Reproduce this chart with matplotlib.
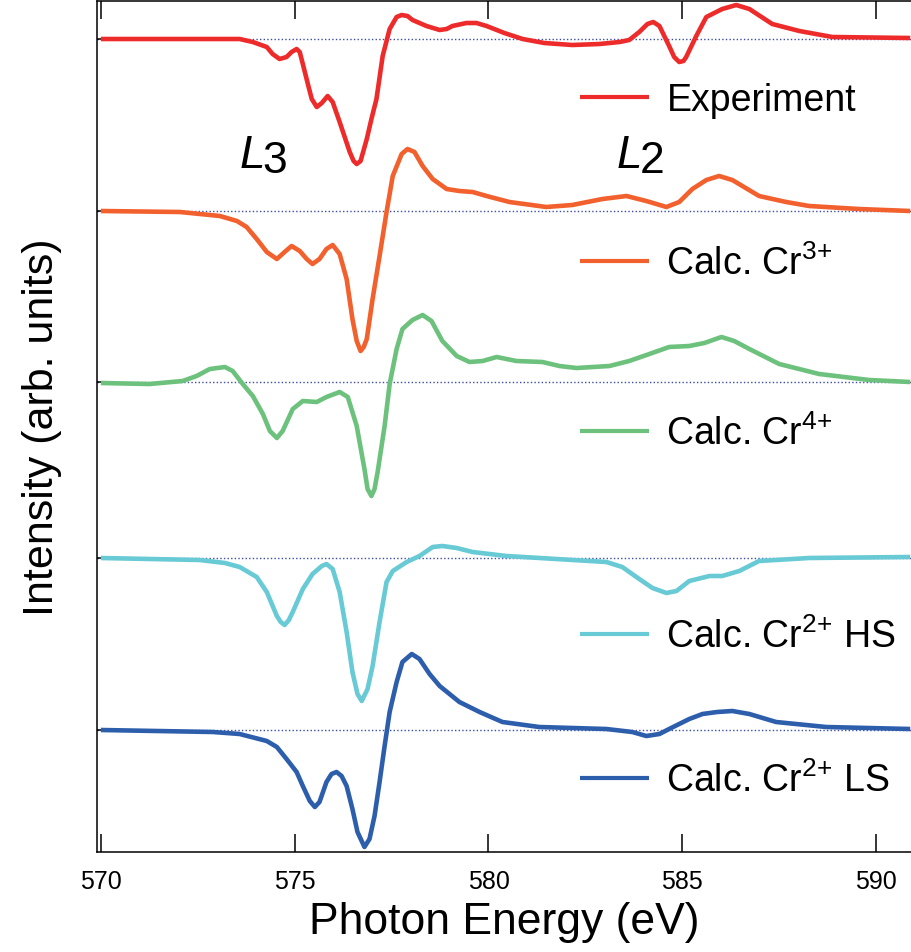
import numpy as np
import matplotlib.pyplot as plt

plt.rcParams['font.family'] = ['Liberation Sans', 'DejaVu Sans']
plt.rcParams['mathtext.fontset'] = 'custom'
plt.rcParams['mathtext.rm'] = 'Liberation Sans'
plt.rcParams['mathtext.it'] = 'Liberation Sans:italic'

# photon energy (eV) / intensity (arb. units)
exp_e = [570.00, 573.58, 573.92, 574.28, 574.43, 574.61, 574.79, 574.92, 575.05, 575.13,
         575.21, 575.34, 575.44, 575.57, 575.70, 575.85, 575.98, 576.16, 576.42, 576.52,
         576.60, 576.70, 576.86, 576.98, 577.11, 577.27, 577.45, 577.63, 577.76, 577.91,
         578.04, 578.40, 578.74, 578.92, 579.07, 579.43, 579.69, 579.95, 580.41, 580.88,
         581.44, 582.16, 582.86, 583.38, 583.63, 583.89, 584.10, 584.25, 584.41, 584.66,
         584.79, 584.92, 585.03, 585.10, 585.36, 585.62, 586.03, 586.39, 586.73, 587.32,
         588.02, 588.87, 590.88]
exp_i = [0.00, 0.00, -0.03, -0.08, -0.15, -0.20, -0.18, -0.13, -0.10, -0.13,
         -0.25, -0.45, -0.60, -0.68, -0.64, -0.57, -0.63, -0.83, -1.13, -1.22,
         -1.25, -1.22, -1.00, -0.80, -0.60, -0.17, 0.10, 0.22, 0.24, 0.23,
         0.19, 0.13, 0.09, 0.10, 0.13, 0.16, 0.16, 0.13, 0.06, 0.00,
         -0.04, -0.06, -0.05, -0.03, -0.01, 0.07, 0.15, 0.17, 0.13, -0.07,
         -0.18, -0.23, -0.22, -0.18, 0.03, 0.22, 0.30, 0.34, 0.30, 0.15,
         0.08, 0.02, 0.01]

cr3_e = [570.00, 572.04, 573.07, 573.51, 573.76, 574.02, 574.28, 574.54, 574.74, 574.92,
         575.13, 575.31, 575.46, 575.64, 575.82, 575.98, 576.16, 576.34, 576.49, 576.60,
         576.70, 576.78, 576.86, 577.01, 577.19, 577.37, 577.53, 577.76, 577.91, 578.09,
         578.30, 578.56, 578.92, 579.25, 579.59, 579.95, 580.54, 581.49, 582.16, 582.94,
         583.56, 584.07, 584.59, 584.92, 585.26, 585.62, 585.95, 586.29, 586.98, 587.68,
         588.27, 589.56, 590.88]
cr3_i = [0.00, -0.01, -0.05, -0.10, -0.16, -0.28, -0.41, -0.48, -0.41, -0.35,
         -0.40, -0.48, -0.53, -0.48, -0.38, -0.34, -0.43, -0.68, -1.08, -1.30,
         -1.40, -1.36, -1.28, -0.88, -0.45, -0.01, 0.35, 0.57, 0.62, 0.59,
         0.45, 0.32, 0.22, 0.20, 0.19, 0.15, 0.09, 0.04, 0.06, 0.12,
         0.15, 0.10, 0.04, 0.09, 0.22, 0.31, 0.35, 0.31, 0.15, 0.09,
         0.05, 0.02, 0.00]

cr4_e = [570.00, 571.26, 572.11, 572.47, 572.81, 573.20, 573.40, 573.66, 573.92, 574.18,
         574.36, 574.54, 574.69, 574.95, 575.21, 575.57, 575.82, 576.16, 576.37, 576.60,
         576.80, 576.88, 576.98, 577.06, 577.14, 577.32, 577.45, 577.63, 577.78, 578.04,
         578.30, 578.53, 578.81, 579.18, 579.51, 579.85, 580.21, 580.72, 581.39, 581.83,
         582.27, 583.12, 583.63, 584.15, 584.66, 585.18, 585.57, 586.01, 586.34, 586.73,
         587.50, 588.53, 589.82, 590.88]
cr4_i = [-0.01, -0.02, 0.01, 0.06, 0.13, 0.15, 0.11, -0.02, -0.14, -0.32,
         -0.49, -0.56, -0.49, -0.27, -0.19, -0.20, -0.15, -0.10, -0.15, -0.44,
         -0.87, -1.07, -1.14, -1.07, -0.90, -0.44, -0.02, 0.33, 0.53, 0.62,
         0.67, 0.61, 0.41, 0.26, 0.20, 0.21, 0.25, 0.21, 0.20, 0.16,
         0.14, 0.16, 0.21, 0.28, 0.35, 0.36, 0.39, 0.45, 0.41, 0.33,
         0.18, 0.08, 0.02, 0.00]

hs_e = [570.00, 572.55, 573.20, 573.58, 574.02, 574.28, 574.54, 574.64, 574.74, 574.85,
        574.95, 575.21, 575.46, 575.70, 575.82, 575.98, 576.16, 576.34, 576.49, 576.62,
        576.73, 576.88, 577.01, 577.19, 577.37, 577.53, 577.89, 578.22, 578.56, 578.81,
        579.18, 579.59, 580.46, 581.75, 583.04, 583.45, 583.89, 584.23, 584.59, 584.85,
        585.18, 585.70, 586.03, 586.47, 586.98, 588.27, 590.88]
hs_i = [0.00, -0.02, -0.05, -0.09, -0.19, -0.34, -0.58, -0.64, -0.67, -0.62,
        -0.54, -0.31, -0.16, -0.08, -0.06, -0.11, -0.34, -0.74, -1.14, -1.36,
        -1.43, -1.31, -1.08, -0.64, -0.24, -0.13, -0.04, 0.02, 0.11, 0.12,
        0.10, 0.06, 0.02, -0.01, -0.04, -0.09, -0.21, -0.30, -0.35, -0.33,
        -0.23, -0.18, -0.18, -0.13, -0.03, 0.00, 0.01]

ls_e = [570.00, 572.89, 573.58, 574.28, 574.54, 574.79, 575.05, 575.21, 575.39, 575.52,
        575.64, 575.82, 575.95, 576.08, 576.21, 576.34, 576.49, 576.62, 576.80, 576.93,
        577.06, 577.19, 577.32, 577.45, 577.63, 577.78, 578.02, 578.22, 578.48, 578.74,
        579.25, 579.77, 580.36, 581.31, 583.04, 583.71, 584.07, 584.41, 584.66, 585.18,
        585.52, 585.90, 586.29, 586.73, 587.42, 588.71, 590.88]
ls_i = [0.00, -0.02, -0.04, -0.11, -0.17, -0.29, -0.42, -0.56, -0.71, -0.77,
        -0.72, -0.52, -0.44, -0.42, -0.46, -0.56, -0.79, -1.02, -1.17, -1.09,
        -0.86, -0.52, -0.16, 0.18, 0.48, 0.68, 0.76, 0.71, 0.56, 0.44,
        0.28, 0.18, 0.08, 0.03, 0.01, -0.02, -0.06, -0.04, 0.01, 0.11,
        0.16, 0.18, 0.19, 0.16, 0.08, 0.03, 0.01]

labels = ['Experiment', r'Calc. Cr$^{3{+}}$', r'Calc. Cr$^{4{+}}$',
          r'Calc. Cr$^{2{+}}$ HS', r'Calc. Cr$^{2{+}}$ LS']
offsets = [6.91, 5.19, 3.48, 1.72, 0.0]
legend_y = [6.33, 4.69, 2.99, 0.96, -0.48]
colors = ['#EE2B2B', '#F2602D', '#6CC27C', '#67CAD5', '#2D5EAC']

fig = plt.figure(figsize=(9.11, 9.53), dpi=100)
ax = fig.add_axes([97 / 911, 1 - 853 / 953, 1 - 97 / 911, 851 / 953])

series = [(exp_e, exp_i), (cr3_e, cr3_i), (cr4_e, cr4_i), (hs_e, hs_i), (ls_e, ls_i)]
for (e, i), off, c, lab, ly in zip(series, offsets, colors, labels, legend_y):
    ax.axhline(off, color='#3A4BAE', lw=1.0, ls=(0, (1, 1.6)), zorder=1)
    ax.plot(e, np.array(i) + off, color=c, lw=3.3, solid_joinstyle='round',
            solid_capstyle='butt', zorder=3)
    # hand-placed legend entries
    ax.plot([582.35, 584.15], [ly, ly], color=c, lw=3.0, solid_capstyle='butt')
    ax.text(584.59, ly - 0.13, lab, fontsize=27, va='baseline', ha='left')

# edge labels
ax.text(573.58, 5.63, 'L', fontsize=33, style='italic', va='baseline')
ax.text(574.17, 5.58, '3', fontsize=32, va='baseline')
ax.text(583.30, 5.63, 'L', fontsize=33, style='italic', va='baseline')
ax.text(583.91, 5.58, '2', fontsize=32, va='baseline')

ax.set_xlim(569.9, 590.9)
ax.set_ylim(-1.22, 7.29)
ax.set_xticks([570, 575, 580, 585, 590])
ax.set_yticks(offsets)
ax.set_yticklabels([])
ax.tick_params(axis='x', direction='in', length=13, width=1.1, top=True,
               labelsize=18, pad=12)
ax.tick_params(axis='y', direction='in', length=4, width=1.1)
ax.spines['right'].set_visible(False)
for s in ['left', 'bottom', 'top']:
    ax.spines[s].set_linewidth(1.1)

ax.set_xlabel('Photon Energy (eV)', fontsize=32, labelpad=6)
ax.set_ylabel('Intensity (arb. units)', fontsize=31, labelpad=22)

fig.savefig('out.png', dpi=100)
